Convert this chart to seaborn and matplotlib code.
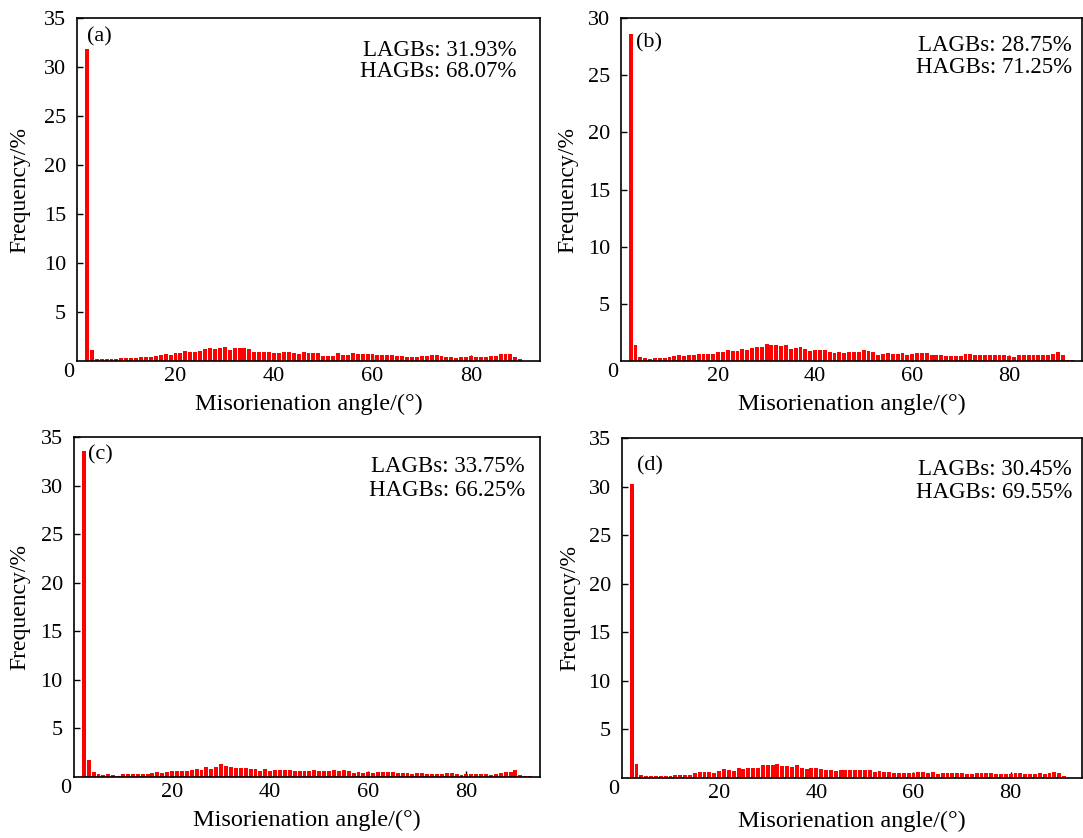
import numpy as np
import pandas as pd
import matplotlib.pyplot as plt
import seaborn as sns

# misorientation angle bins (degrees), one bar per degree
angles = list(range(2, 94))

freq_a = [31.8, 1.1, 0.25, 0.2, 0.2, 0.25, 0.2, 0.3, 0.3, 0.35, 0.3,
          0.45, 0.45, 0.45, 0.5, 0.6, 0.7, 0.6, 0.8, 0.8,
          1.0, 0.9, 0.95, 1.0, 1.2, 1.3, 1.2, 1.3, 1.45,
          1.1, 1.3, 1.35, 1.35, 1.2, 0.95, 0.95, 0.9, 0.9,
          0.8, 0.8, 0.9, 0.95, 0.8, 0.7, 0.9,
          0.78, 0.78, 0.78, 0.55, 0.5, 0.5, 0.85, 0.6, 0.62, 0.85,
          0.68, 0.68, 0.68, 0.75, 0.58, 0.58, 0.58, 0.58, 0.5, 0.5,
          0.42, 0.42, 0.42, 0.5, 0.52, 0.6, 0.6, 0.5, 0.42, 0.45,
          0.3, 0.42, 0.42, 0.5, 0.42, 0.42, 0.42, 0.5, 0.5, 0.72,
          0.72, 0.72, 0.45, 0.17, 0, 0, 0]

freq_b = [28.6, 1.43, 0.32, 0.29, 0.2, 0.29, 0.29, 0.29, 0.35, 0.44, 0.5,
          0.44, 0.5, 0.55, 0.64, 0.64, 0.64, 0.64, 0.79, 0.79,
          0.99, 0.87, 0.87, 1.02, 0.99, 1.17, 1.22, 1.22, 1.52,
          1.37, 1.43, 1.31, 1.37, 1.08, 1.14, 1.22, 1.02, 0.85,
          0.99, 0.99, 0.99, 0.79, 0.73, 0.79, 0.73, 0.79,
          0.79, 0.79, 0.93, 0.85, 0.79, 0.55, 0.61, 0.7, 0.64, 0.64,
          0.7, 0.5, 0.58, 0.7, 0.7, 0.7, 0.55, 0.5, 0.5, 0.44,
          0.44, 0.44, 0.44, 0.61, 0.61, 0.55, 0.55, 0.55, 0.55, 0.55,
          0.55, 0.55, 0.44, 0.38, 0.5, 0.55, 0.5, 0.5, 0.5, 0.55,
          0.55, 0.6, 0.8, 0.5, 0.09, 0.09]

freq_c = [33.6, 1.79, 0.52, 0.31, 0.24, 0.31, 0.24, 0.14, 0.31, 0.31, 0.31,
          0.31, 0.31, 0.31, 0.41, 0.48, 0.41, 0.52, 0.58, 0.65,
          0.58, 0.65, 0.72, 0.86, 0.76, 1.0, 0.86, 1.0, 1.34,
          1.17, 1.0, 0.93, 0.93, 0.93, 0.86, 0.86, 0.65, 0.86,
          0.65, 0.76, 0.76, 0.76, 0.76, 0.65, 0.65, 0.58,
          0.65, 0.72, 0.58, 0.58, 0.58, 0.69, 0.58, 0.72, 0.65, 0.41,
          0.48, 0.41, 0.48, 0.41, 0.52, 0.52, 0.52, 0.52, 0.41, 0.41,
          0.41, 0.31, 0.41, 0.41, 0.31, 0.31, 0.31, 0.31, 0.41, 0.41,
          0.31, 0.24, 0.31, 0.31, 0.31, 0.31, 0.31, 0.24, 0.31, 0.41,
          0.52, 0.52, 0.69, 0.24, 0.07, 0.07]

freq_d = [30.3, 1.47, 0.3, 0.25, 0.22, 0.22, 0.2, 0.2, 0.25, 0.3, 0.3,
          0.35, 0.3, 0.55, 0.65, 0.6, 0.6, 0.55, 0.7, 0.9,
          0.85, 0.75, 1.0, 0.95, 1.0, 1.05, 1.05, 1.3, 1.3,
          1.3, 1.45, 1.2, 1.2, 1.15, 1.3, 1.0, 0.95, 1.0,
          1.0, 0.95, 0.85, 0.8, 0.75, 0.8, 0.8, 0.8, 0.8, 0.8,
          0.8, 0.85, 0.65, 0.7, 0.65, 0.6, 0.55, 0.55, 0.5, 0.55,
          0.55, 0.6, 0.65, 0.5, 0.6, 0.45, 0.5, 0.55, 0.5, 0.55,
          0.5, 0.45, 0.45, 0.5, 0.55, 0.5, 0.55, 0.45, 0.4, 0.45,
          0.45, 0.5, 0.5, 0.45, 0.45, 0.45, 0.5, 0.45, 0.5, 0.6,
          0.55, 0.17, 0, 0]

tags = ['(a)', '(b)', '(c)', '(d)']
lagbs = ['LAGBs: 31.93%', 'LAGBs: 28.75%', 'LAGBs: 33.75%', 'LAGBs: 30.45%']
hagbs = ['HAGBs: 68.07%', 'HAGBs: 71.25%', 'HAGBs: 66.25%', 'HAGBs: 69.55%']
y_max = [35, 30, 35, 35]

sns.set_style('ticks')
plt.rcParams['font.family'] = ['Liberation Serif', 'DejaVu Serif']
for key in ['text.color', 'axes.labelcolor', 'xtick.color', 'ytick.color',
            'axes.edgecolor']:
    plt.rcParams[key] = 'black'

fig = plt.figure(figsize=(10.83, 8.38), dpi=100)

# axes boxes and text anchors (axes fraction) per panel
boxes = [[0.0711, 0.5692, 0.4275, 0.4093],
         [0.5734, 0.5692, 0.4257, 0.4093],
         [0.0683, 0.0728, 0.4303, 0.4057],
         [0.5743, 0.0716, 0.4248, 0.4053]]
tag_pos = [(0.022, 0.933), (0.033, 0.915), (0.030, 0.935), (0.033, 0.906)]
txt_pos = [(0.950, 0.890, 0.828), (0.978, 0.904, 0.840),
           (0.968, 0.897, 0.826), (0.978, 0.891, 0.824)]
ylab_x = [-0.123, -0.115, -0.116, -0.113]
xlims = [94, 95, 95, 94.7]

for i, freq in enumerate([freq_a, freq_b, freq_c, freq_d]):
    ax = fig.add_axes(boxes[i])
    df = pd.DataFrame({'angle': angles, 'freq': freq})
    sns.barplot(data=df, x='angle', y='freq', native_scale=True,
                color='#ff0000', saturation=1, width=0.8, linewidth=0,
                errorbar=None, ax=ax)
    ax.set_xlim(0, xlims[i])
    ax.set_ylim(0, y_max[i])
    ax.set_xticks([20, 40, 60, 80])
    ax.set_yticks(list(range(5, y_max[i] + 1, 5)))
    ax.tick_params(direction='in', length=4, width=1, labelsize=16,
                   top=False, right=False)
    ax.tick_params(axis='y', pad=8)
    ax.tick_params(axis='x', pad=4)
    for s in ax.spines.values():
        s.set_linewidth(1.2)
        s.set_color('black')
    ax.annotate('0', xy=(0, 0), xycoords='axes fraction', xytext=(-6, -8),
                textcoords='offset points', ha='center', va='center',
                fontsize=16)
    ax.set_xlabel('Misorienation angle/(°)', fontsize=17.5, va='center')
    ax.xaxis.set_label_coords(0.5, -0.127)
    ax.set_ylabel('Frequency/%', fontsize=17, va='center')
    ax.yaxis.set_label_coords(ylab_x[i], 0.5)
    ax.text(tag_pos[i][0], tag_pos[i][1], tags[i], transform=ax.transAxes,
            fontsize=16, ha='left', va='baseline')
    xr, y1, y2 = txt_pos[i]
    ax.text(xr, y1, lagbs[i], transform=ax.transAxes, fontsize=16.5,
            ha='right', va='baseline')
    ax.text(xr, y2, hagbs[i], transform=ax.transAxes, fontsize=16.5,
            ha='right', va='baseline')

fig.savefig('out.png', dpi=100)
